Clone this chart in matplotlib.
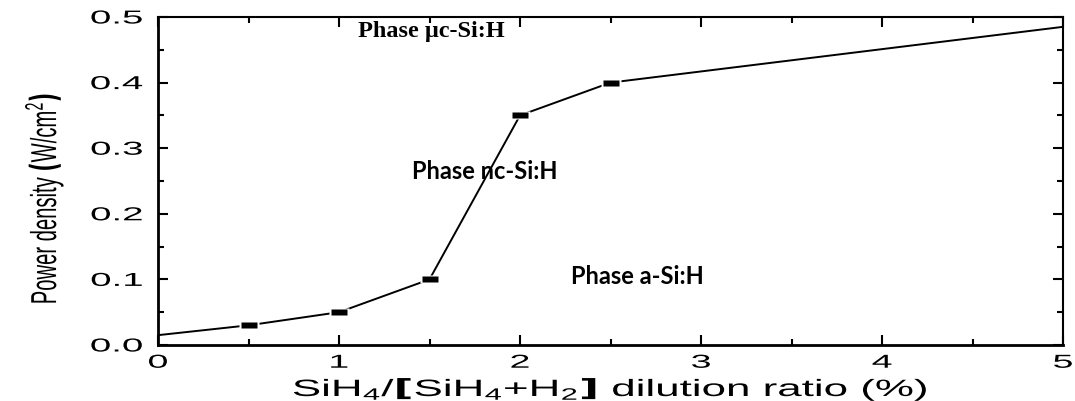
import matplotlib
matplotlib.use("Agg")
import matplotlib.pyplot as plt
from matplotlib.path import Path
from matplotlib.patheffects import AbstractPathEffect
from matplotlib.transforms import Affine2D
from matplotlib.ticker import MultipleLocator

# data
ratio = [0.0, 0.5, 1.0, 1.5, 2.0, 2.5, 5.0]
power = [0.015, 0.03, 0.05, 0.10, 0.35, 0.40, 0.485]
mark_ratio = [0.5, 1.0, 1.5, 2.0, 2.5]
mark_power = [0.03, 0.05, 0.10, 0.35, 0.40]
xticks = [0, 1, 2, 3, 4, 5]
yticks = [0.0, 0.1, 0.2, 0.3, 0.4, 0.5]

plt.rcParams['mathtext.default'] = 'regular'


# stretch text horizontally (the original uses a wide/condensed font)
class Stretch(AbstractPathEffect):
    def __init__(self, sx, anchor='center'):
        super().__init__()
        self.sx = sx
        self.anchor = anchor

    def draw_path(self, renderer, gc, tpath, affine, rgbFace=None):
        ext = tpath.get_extents()
        if self.anchor == 'right':
            cx = ext.x1
        elif self.anchor == 'left':
            cx = 0
        else:
            cx = (ext.x0 + ext.x1) / 2
        t = Affine2D().translate(-cx, 0).scale(self.sx, 1).translate(cx, 0) + affine
        renderer.draw_path(gc, tpath, t, rgbFace)


fig = plt.figure(figsize=(10.75, 4.02), dpi=100)
ax = fig.add_axes([158 / 1075, 1 - 346 / 402, 905 / 1075, 328 / 402])

# flat rectangle marker
rect = Path([(-1.15, -0.5), (1.15, -0.5), (1.15, 0.5), (-1.15, 0.5), (-1.15, -0.5)],
            [Path.MOVETO, Path.LINETO, Path.LINETO, Path.LINETO, Path.CLOSEPOLY])

ax.plot(ratio, power, color='black', lw=1.4, zorder=2)
ax.plot(mark_ratio, mark_power, ls='none', marker=rect, ms=14.5, mfc='white',
        mec='none', zorder=3)
ax.plot(mark_ratio, mark_power, ls='none', marker=rect, ms=11.5, mfc='black',
        mec='none', zorder=4)

ax.set_xlim(0, 5)
ax.set_ylim(0, 0.5)
ax.set_xticks(xticks)
ax.set_xticklabels([str(v) for v in xticks])
ax.set_yticks(yticks)
ax.set_yticklabels(['%.1f' % v for v in yticks])
ax.xaxis.set_minor_locator(MultipleLocator(0.5))
ax.yaxis.set_minor_locator(MultipleLocator(0.05))
ax.tick_params(which='both', direction='in', top=True, right=True, width=1.5)
ax.tick_params(which='major', length=7)
ax.tick_params(which='minor', length=4)
ax.tick_params(axis='x', pad=7)
ax.tick_params(axis='y', pad=11)
for s in ['left', 'bottom']:
    ax.spines[s].set_linewidth(2)
for s in ['top', 'right']:
    ax.spines[s].set_linewidth(1.5)

for lab in ax.get_xticklabels():
    lab.set_family('Liberation Sans')
    lab.set_fontsize(13.5)
    lab.set_path_effects([Stretch(2.0, 'center')])
for lab in ax.get_yticklabels():
    lab.set_family('Liberation Sans')
    lab.set_fontsize(13.5)
    lab.set_path_effects([Stretch(2.05, 'right')])

ax.set_xlabel(r'SiH$_4$/$\mathbf{[}$SiH$_4$+H$_2$$\mathbf{]}$ dilution ratio (%)',
              family='Liberation Sans', fontsize=17,
              path_effects=[Stretch(1.86, 'center')])
ax.xaxis.label.set_va('baseline')
ax.xaxis.set_label_coords(0.5, (346 - 397) / 328)

ax.set_ylabel(r'Power density $\mathbf{(}$W/cm$^2$$\mathbf{)}$',
              family='Liberation Sans', fontsize=26,
              path_effects=[Stretch(0.56, 'center')])
ax.yaxis.label.set_va('center')
ax.yaxis.set_label_coords((44 - 158) / 905, (346 - 200) / 328)

ax.text(1.513, 0.471, 'Phase μc-Si:H', family='Liberation Serif',
        weight='bold', fontsize=17.5, ha='center', va='baseline')
ax.text(1.804, 0.2546, 'Phase nc-Si:H', family='Lato', weight='bold',
        fontsize=17, ha='center', va='baseline')
ax.text(2.646, 0.094, 'Phase a-Si:H', family='Lato', weight='bold',
        fontsize=17, ha='center', va='baseline')

fig.savefig('out.png', dpi=100)
